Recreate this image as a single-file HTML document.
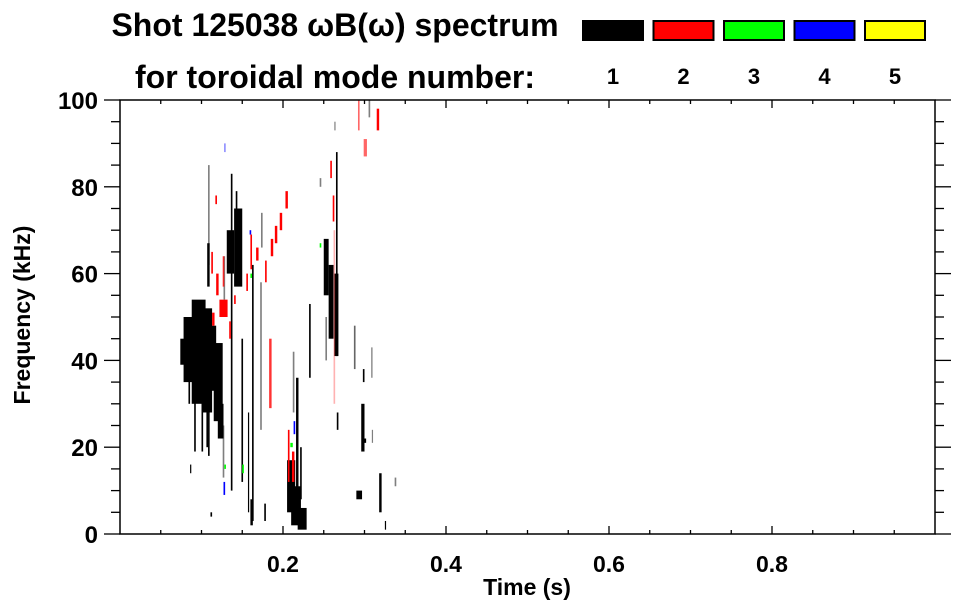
<!DOCTYPE html>
<html><head><meta charset="utf-8"><style>
html,body{margin:0;padding:0;background:#fff;}
svg{display:block;font-family:"Liberation Sans",Arial,sans-serif;font-weight:bold;}
</style></head><body>
<svg id="chart" width="963" height="615" viewBox="0 0 963 615" xmlns="http://www.w3.org/2000/svg">
<rect x="0" y="0" width="963" height="615" fill="#fff"/>
<text x="335" y="36" font-size="32" text-anchor="middle">Shot 125038 ωB(ω) spectrum</text>
<text x="335" y="88" font-size="32" text-anchor="middle">for toroidal mode number:</text>
<g id="legend"></g>
<g id="marks"></g>
<g id="axes"></g>
<text x="0" y="0" font-size="23" text-anchor="middle" transform="translate(30,315) rotate(-90)">Frequency (kHz)</text>
<text x="527" y="595" font-size="23" text-anchor="middle">Time (s)</text>
</svg>
<script>
// ---- data ----
var modeNumbers = [1, 2, 3, 4, 5];
var modeColors = ["#000000", "#ff0000", "#00ff00", "#0000ff", "#ffff00"];
var xTickValues = [0.2, 0.4, 0.6, 0.8];
var xTickLabels = ["0.2", "0.4", "0.6", "0.8"];
var yTickValues = [0, 20, 40, 60, 80, 100];
var yTickLabels = ["0", "20", "40", "60", "80", "100"];
// spectral features: time start/end (s), frequency low/high (kHz), mode, amplitude level
var tStart = [0.074,0.078,0.088,0.100,0.108,0.115,0.120,0.084,0.091,0.100,0.106,0.108,0.086,0.131,0.140,0.136,0.142,0.149,0.126,0.127,0.108,0.107,0.162,0.160,0.172,0.173,0.157,0.177,0.183,0.155,0.160,0.167,0.178,0.185,0.190,0.196,0.203,0.112,0.118,0.122,0.126,0.117,0.134,0.140,0.113,0.205,0.210,0.218,0.216,0.221,0.206,0.211,0.213,0.209,0.232,0.212,0.250,0.256,0.263,0.265,0.252,0.266,0.262,0.261,0.258,0.245,0.263,0.292,0.315,0.305,0.299,0.296,0.298,0.300,0.290,0.318,0.337,0.325,0.309,0.308,0.287,0.160,0.128,0.150,0.245,0.127,0.159,0.128,0.111];
var tEnd   = [0.080,0.090,0.105,0.113,0.118,0.126,0.127,0.086,0.093,0.102,0.108,0.110,0.087,0.140,0.150,0.138,0.144,0.151,0.128,0.129,0.110,0.110,0.164,0.163,0.174,0.175,0.158,0.179,0.186,0.157,0.162,0.170,0.180,0.188,0.193,0.199,0.206,0.114,0.121,0.132,0.128,0.119,0.136,0.142,0.116,0.215,0.222,0.229,0.219,0.223,0.208,0.214,0.215,0.212,0.234,0.214,0.256,0.262,0.268,0.267,0.254,0.268,0.264,0.263,0.260,0.247,0.264,0.294,0.318,0.307,0.303,0.300,0.300,0.302,0.297,0.321,0.339,0.326,0.310,0.310,0.289,0.162,0.130,0.152,0.247,0.129,0.161,0.129,0.113];
var fLow   = [39,35,30,28,33,26,22,30,19,19,20,18,14,60,57,10,58,12,13,54,62,57,3,2,24,66,5,3,29,56,61,63,58,64,67,70,75,60,55,50,57,76,45,53,48,5,2,1,3,8,12,12,23,20,36,28,55,45,41,41,40,24,30,72,82,80,93,93,93,96,87,19,35,21,8,5,11,1,21,36,38,59,15,14,66,9,69,88,4];
var fHigh  = [45,50,54,52,48,44,30,40,40,40,34,35,16,70,75,83,79,45,25,64,85,67,62,8,58,74,28,7,45,60,69,66,63,68,71,74,79,65,60,54,64,78,49,55,51,17,11,6,36,20,24,19,26,21,53,42,68,62,60,88,50,28,70,78,86,82,95,100,98,100,91,30,38,22,10,14,13,3,24,43,48,60,16,16,67,12,70,90,5];
var modeOf = [1,1,1,1,1,1,1,1,1,1,1,1,1,1,1,1,1,1,1,1,1,1,1,1,1,1,1,1,2,2,2,2,2,2,2,2,2,2,2,2,2,2,2,2,2,1,1,1,1,1,2,2,4,3,1,1,1,1,1,1,1,1,2,2,2,1,1,2,2,1,2,1,1,1,1,1,1,1,1,1,1,3,3,3,3,4,4,4,1];
var level  = [1,1,1,1,1,1,1,1,1,1,1,1,1,1,1,1,1,1,0.5,0.5,0.5,1,1,1,0.5,0.5,1,1,0.8,1,1,1,1,1,1,1,1,1,1,1,0.8,1,1,1,1,1,1,1,1,1,1,1,1,1,1,0.5,1,1,1,1,0.5,1,0.3,1,1,0.5,0.5,0.6,1,0.5,0.6,1,1,1,1,1,0.5,1,0.5,0.4,0.6,1,1,1,1,1,1,0.6,1];

// ---- axes functions ----
var X0 = 120, X1 = 935, Y0 = 534, Y1 = 100;
var tMin = 0, tMax = 1.0, fMin = 0, fMax = 100;
function xs(t){ return X0 + (t - tMin) / (tMax - tMin) * (X1 - X0); }
function ys(f){ return Y0 - (f - fMin) / (fMax - fMin) * (Y0 - Y1); }

var NS = "http://www.w3.org/2000/svg";
function mk(tag, attrs, parent){
  var e = document.createElementNS(NS, tag);
  for (var k in attrs) e.setAttribute(k, attrs[k]);
  parent.appendChild(e);
  return e;
}

// marks
var marks = document.getElementById("marks");
for (var i = 0; i < tStart.length; i++) {
  var xa = xs(tStart[i]), xb = xs(tEnd[i]);
  var ya = ys(fHigh[i]), yb = ys(fLow[i]);
  var r = mk("rect", {x: xa, y: ya, width: Math.max(1.2, xb - xa), height: Math.max(1.5, yb - ya),
    fill: modeColors[modeOf[i] - 1], opacity: level[i]}, marks);
  
  
}

// legend
var legend = document.getElementById("legend");
for (var m = 0; m < modeNumbers.length; m++) {
  var lx = 583 + m * 70.5;
  var box = mk("rect", {x: lx, y: 21, width: 60, height: 19, fill: modeColors[m], stroke: "#000", "stroke-width": 2}, legend);
  
  
  var lt = mk("text", {x: lx + 30, y: 84, "font-size": 22, "text-anchor": "middle"}, legend);
  lt.textContent = String(modeNumbers[m]);
  
  
}

// axes
var axes = document.getElementById("axes");
var frame = mk("rect", {x: X0, y: Y1, width: X1 - X0, height: Y0 - Y1, fill: "none", stroke: "#000", "stroke-width": 1.5}, axes);


for (var k = 1; k < 20; k++) {
  var tv = k * 0.05, xx = xs(tv);
  var major = (k % 4 === 0);
  var len = major ? 8 : 4;
  mk("line", {x1: xx, y1: Y0, x2: xx, y2: Y0 - len, stroke: "#000", "stroke-width": 1.3}, axes);
  mk("line", {x1: xx, y1: Y1, x2: xx, y2: Y1 + len, stroke: "#000", "stroke-width": 1.3}, axes);
}
for (var k2 = 0; k2 < xTickValues.length; k2++) {
  var xt = mk("text", {x: xs(xTickValues[k2]), y: 572, "font-size": 23, "text-anchor": "middle"}, axes);
  xt.textContent = xTickLabels[k2];
  
  
}
for (var j = 0; j <= 20; j++) {
  var fv = j * 5, yy = ys(fv);
  var maj = (j % 4 === 0);
  var l2 = maj ? 16 : 9;
  mk("line", {x1: X0, y1: yy, x2: X0 - l2, y2: yy, stroke: "#000", "stroke-width": 1.3}, axes);
  mk("line", {x1: X1, y1: yy, x2: X1 + l2, y2: yy, stroke: "#000", "stroke-width": 1.3}, axes);
}
for (var j2 = 0; j2 < yTickValues.length; j2++) {
  var yt = mk("text", {x: 98, y: ys(yTickValues[j2]) + 9, "font-size": 24, "text-anchor": "end"}, axes);
  yt.textContent = yTickLabels[j2];
  
  
}
</script>
</body></html>
